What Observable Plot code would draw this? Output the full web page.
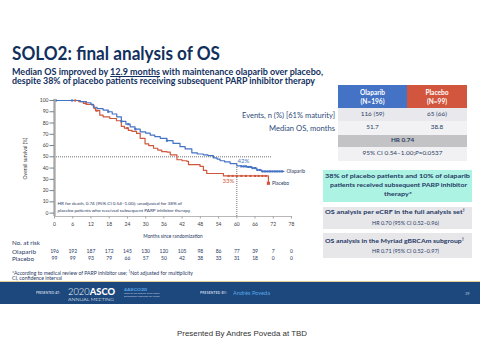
<!DOCTYPE html>
<html><head><meta charset="utf-8">
<script src="https://cdn.jsdelivr.net/npm/d3@7"></script>
<script src="https://cdn.jsdelivr.net/npm/@observablehq/plot@0.6"></script>
<style>
html,body{margin:0;padding:0;background:#fff}
body{width:480px;height:360px;position:relative;overflow:hidden;font-family:Lato,"Open Sans",sans-serif;color:#1f3864}
.a{position:absolute;white-space:nowrap;line-height:1;transform-origin:0 0}
.b{font-weight:700}
.box{position:absolute}
.cell{position:absolute;display:flex;align-items:center;justify-content:center;font-size:6.4px;color:#2c3e63;line-height:1.35;text-align:center}
#chart{position:absolute;left:0;top:95px}
</style></head><body>

<div class="a b" data-w="208" style="left:12px;top:43.5px;font-size:18px;color:#12305e">SOLO2: final analysis of OS</div>
<div class="a b" data-w="311" style="left:12px;top:68px;font-size:8.6px;color:#12305e">Median OS improved by <span style="text-decoration:underline">12.9 months</span> with maintenance olaparib over placebo,</div>
<div class="a b" data-w="303" style="left:12px;top:76.5px;font-size:8.6px;color:#12305e">despite 38% of placebo patients receiving subsequent PARP inhibitor therapy</div>

<div id="chart"></div>

<div class="a" data-w="28" style="left:12px;top:240.5px;font-size:5px">No. at risk</div>
<div class="a" data-w="24" style="left:12px;top:249.5px;font-size:5px">Olaparib</div>
<div class="a" data-w="22" style="left:12px;top:256.5px;font-size:5px">Placebo</div>
<div class="a" data-w="181" style="left:12px;top:269.5px;font-size:5px">*According to medical review of PARP inhibitor use; <sup style="font-size:3px">†</sup>Not adjusted for multiplicity</div>
<div class="a" data-w="50" style="left:12px;top:275.5px;font-size:5px">CI, confidence interval</div>

<!-- table -->
<div class="a" data-w="93" style="left:242px;top:111.7px;font-size:6.6px;color:#2e4a7a">Events, n (%) [61% maturity]</div>
<div class="a" data-w="66" style="left:269px;top:124.5px;font-size:6.6px;color:#2e4a7a">Median OS, months</div>
<div class="cell b" style="left:338px;top:85px;width:69px;height:23px;background:#4472c4;color:#fff;font-size:6.6px" id="hOla"></div>
<div class="cell b" style="left:407px;top:85px;width:60px;height:23px;background:#d2553d;color:#fff;font-size:6.6px" id="hPla"></div>
<div class="cell" style="left:338px;top:108px;width:69px;height:13px;background:#e8e8ed" id="e1"></div>
<div class="cell" style="left:407px;top:108px;width:60px;height:13px;background:#e8e8ed" id="e2"></div>
<div class="cell" style="left:338px;top:121px;width:69px;height:13.5px;background:#f2f2f5" id="m1"></div>
<div class="cell" style="left:407px;top:121px;width:60px;height:13.5px;background:#f2f2f5" id="m2"></div>
<div class="cell b" style="left:338px;top:134.5px;width:129px;height:12.5px;background:#c3c3c6" id="hr"></div>
<div class="cell" style="left:338px;top:147px;width:129px;height:13.5px;background:#f1f1f3" id="ci"></div>

<!-- teal box -->
<div class="box" style="left:323px;top:170px;width:149px;height:32px;background:#adf3e3"></div>
<div class="a b" data-w="145" style="left:325px;top:173px;font-size:6.3px">38% of placebo patients and 10% of olaparib</div>
<div class="a b" data-w="137" style="left:330px;top:182px;font-size:6.3px">patients received subsequent PARP inhibitor</div>
<div class="a b" data-w="28" style="left:384px;top:190.5px;font-size:6.3px">therapy*</div>

<div class="box" style="left:323px;top:207px;width:149px;height:21.5px;background:#e7e7ea"></div>
<div class="a b" data-w="140" style="left:325px;top:209.3px;font-size:6px">OS analysis per eCRF in the full analysis set<sup style="font-size:3.5px">†</sup></div>
<div class="a" data-w="67" style="left:371.5px;top:219.8px;font-size:5.8px">HR 0.70 (95% CI 0.52–0.96)</div>
<div class="box" style="left:323px;top:233px;width:149px;height:25px;background:#e7e7ea"></div>
<div class="a b" data-w="139" style="left:325px;top:237.7px;font-size:6px">OS analysis in the Myriad gBRCAm subgroup<sup style="font-size:3.5px">†</sup></div>
<div class="a" data-w="67" style="left:371.5px;top:248.1px;font-size:5.8px">HR 0.71 (95% CI 0.52–0.97)</div>

<!-- footer -->
<div class="box" style="left:0;top:281px;width:480px;height:1px;background:#e3cf8f"></div>
<div class="box" style="left:0;top:282px;width:480px;height:22px;background:#1c487d"></div>
<div class="a b" data-w="24" style="left:36px;top:292.3px;font-size:3.3px;color:#c9d3e3;letter-spacing:0.2px">PRESENTED AT:</div>
<div class="a" data-w="47" style="left:68px;top:286.5px;font-size:9px;color:#fff"><span style="font-weight:300">2020</span><span style="font-weight:900">ASCO</span></div>
<div class="a" data-w="46" style="left:68px;top:296.7px;font-size:4.6px;color:#fff;font-weight:300">ANNUAL MEETING</div>
<div class="a b" data-w="23" style="left:124px;top:288.3px;font-size:4.5px;color:#5aa7e8">#ASCO20</div>
<div class="a" data-w="36" style="left:124px;top:293.3px;font-size:2.4px;color:#c9d3e3">Slides are the property of the author,</div>
<div class="a" data-w="36" style="left:124px;top:296.3px;font-size:2.4px;color:#c9d3e3">permission required for reuse.</div>
<div class="a b" data-w="27" style="left:200px;top:292.3px;font-size:3.3px;color:#c9d3e3;letter-spacing:0.2px">PRESENTED BY:</div>
<div class="a" data-w="37" style="left:233px;top:291px;font-size:5px;color:#5aa7e8">Andrés Poveda</div>
<div class="a" style="left:465px;top:292px;font-size:4px;color:#b9c6da">39</div>

<div class="a" data-w="130" style="left:176.7px;top:329.6px;font-size:7.8px;color:#333;font-family:'Liberation Sans',Arial,sans-serif">Presented By Andres Poveda at TBD</div>

<script>
// ---- data ----
const olapMonths = [0,7.5,8.5,10.5,12,12.8,14,16,17.7,19,20.5,22,23.5,24.9,26.5,28.2,30,31.5,33,34.8,37,39,41.3,43,45.2,47,49,50.5,52.3,53.5,54.5,56,57.8,60,61.5,63.3,65,66.6,68.2,75.5];
const olapSurv   = [100,100,99,98,96.5,94,92.7,91.5,90,88,85.5,81.5,79,76.6,74.5,72.2,71,69.3,68,66.4,64.3,62,59,57,53.5,52.5,51.8,51,49,48,46.5,45.5,44,42,41.5,41,40,38.3,37,37];
const placMonths = [0,7,8,9.5,10.5,12.2,13,13.5,14.9,16,18.2,20.4,22,23,24.3,25.5,27,28.2,29.8,31,32.6,34,35.3,37,38.1,40.3,42,43.6,44.1,47.9,49,50.1,55.6,70.4];
const placSurv   = [100,100,99,97.5,96.5,96,93,91,87,85.5,84,82,77,75.5,73.5,72.5,70.8,66.4,61.5,60,57.6,56,54.6,54.2,51.8,47.4,46.5,45.9,43,41.5,38,35.2,33,26.5];
const olapCensor = [0.5,5.8,17.7,22,24.3,26.6,37,61.5,62.3,63,63.8,64.5,65.2,66,66.8,67.6,68.5,69.3,70.1,70.9,71.7,72.5,73.3,74.1,74.9];
const placCensor = [6.8,10.3,13.9,24,57.3,58.6,60,61.5,63,64.5,66,67.2,68.4,69.5];
const riskMonths = [0,6,12,18,24,30,36,42,48,54,60,66,72,78];
const olapRisk   = [196,192,187,172,145,130,120,105,98,86,77,39,7,0];
const placRisk   = [99,99,93,79,66,57,50,42,38,33,31,18,0,0];
const yTicks = [0,10,20,30,40,50,60,70,80,90,100];
const seriesNames = ["Olaparib","Placebo"];
const seriesN = [196,99];
const events = ["116 (59)","65 (66)"];
const medians = ["51.7","38.8"];
const hrText = "HR 0.74";
const ciText = "95% CI 0.54–1.00; <i>P</i>=0.0537";
const hrNote = "HR for death, 0.74 (95% CI 0.54–1.00); unadjusted for 38% of\nplacebo patients who received subsequent PARP inhibitor therapy";

document.getElementById("hOla").innerHTML = seriesNames[0] + "<br>(N=" + seriesN[0] + ")";
document.getElementById("hPla").innerHTML = seriesNames[1] + "<br>(N=" + seriesN[1] + ")";
document.getElementById("e1").textContent = events[0];
document.getElementById("e2").textContent = events[1];
document.getElementById("m1").textContent = medians[0];
document.getElementById("m2").textContent = medians[1];
document.getElementById("hr").textContent = hrText;
document.getElementById("ci").innerHTML = ciText;

const blue = "#4472c4", red = "#d0573c", navy = "#1f3864";
const olap = olapMonths.map((m,i)=>({m, s: olapSurv[i]}));
const plac = placMonths.map((m,i)=>({m, s: placSurv[i]}));
function stepAt(ms, ss, t){let v = ss[0]; for (let i=0;i<ms.length;i++) if (ms[i] <= t) v = ss[i]; return v;}
const olapC = olapCensor.map(m=>({m, s: stepAt(olapMonths, olapSurv, m)}));
const placC = placCensor.map(m=>({m, s: stepAt(placMonths, placSurv, m)}));
const placEnd = [plac[plac.length-1]];
const olapEnd = [olap[olap.length-1]];
const risk = riskMonths.map((m,i)=>({m, o: olapRisk[i], p: placRisk[i]}));

const chart = Plot.plot({
  width: 300, height: 175,
  marginLeft: 54, marginRight: 9, marginTop: 5, marginBottom: 54,
  style: {fontFamily: "Lato, sans-serif", fontSize: "5px", color: "#404040", background: "transparent", overflow: "visible"},
  x: {domain: [0, 78]},
  y: {domain: [-3, 100]},
  marks: [
    Plot.ruleY([50], {x1: 0, x2: 71.5, stroke: "#333", strokeWidth: 0.7, strokeDasharray: "1,1"}),
    Plot.ruleX([60], {y1: -3, y2: 42, stroke: "#333", strokeWidth: 0.7, strokeDasharray: "1,1"}),
    Plot.line(plac, {x: "m", y: "s", curve: "step-after", stroke: red, strokeWidth: 1.2}),
    Plot.line(olap, {x: "m", y: "s", curve: "step-after", stroke: blue, strokeWidth: 1.2}),
    Plot.dot(placC, {x: "m", y: "s", symbol: "square", r: 1.2, fill: red, stroke: "none"}),
    Plot.dot(olapC, {x: "m", y: "s", symbol: "square", r: 1.2, fill: blue, stroke: "none"}),
    Plot.dot(placEnd, {x: "m", y: "s", symbol: "square", r: 1.8, fill: red, stroke: "none"}),
    Plot.ruleX([0], {y1: -3, y2: 101, stroke: "#a6a6a6", strokeWidth: 2.3}),
    Plot.ruleY([-3], {x1: 0, x2: 78, stroke: "#a6a6a6", strokeWidth: 0.8}),
    Plot.axisY({ticks: yTicks, tickSize: 4.5, tickPadding: 1.5, stroke: "#7f7f7f", fontSize: 5, label: "Overall survival (%)", labelAnchor: "center", labelOffset: 31, labelArrow: false}),
    Plot.axisX({ticks: riskMonths, tickSize: 2.5, tickPadding: 3, stroke: "#a6a6a6", fontSize: 5, label: null}),
    Plot.text(["Months since randomization"], {frameAnchor: "bottom", dy: 21, fontSize: 4.8, fill: navy}),
    Plot.text(risk, {x: "m", text: "o", frameAnchor: "bottom", dy: 36, fontSize: 5, fill: navy}),
    Plot.text(risk, {x: "m", text: "p", frameAnchor: "bottom", dy: 43, fontSize: 5, fill: navy}),
    Plot.text([hrNote], {x: 1, y: 6, textAnchor: "start", lineHeight: 1.4, fontSize: 4.6, fill: navy}),
    Plot.text(["42%"], {x: 60, y: 42, dx: 0.8, dy: -4.5, textAnchor: "start", fill: blue, fontSize: 6}),
    Plot.text(["33%"], {x: 60, y: 33, dx: -2.5, dy: 5.3, textAnchor: "end", fill: red, fontSize: 6}),
    Plot.text(olapEnd, {x: "m", y: "s", text: () => seriesNames[0], dx: 2.5, textAnchor: "start", fill: navy, fontSize: 5}),
    Plot.text(placEnd, {x: "m", y: "s", text: () => seriesNames[1], dx: 3.5, textAnchor: "start", fill: navy, fontSize: 5})
  ]
});
document.getElementById("chart").appendChild(chart);

function fitAll(){
  document.querySelectorAll("[data-w]").forEach(el => {
    el.style.transform = "none";
    const w = el.getBoundingClientRect().width;
    if (w > 0) el.style.transform = "scaleX(" + (+el.dataset.w / w) + ")";
  });
}
fitAll();
if (document.fonts && document.fonts.ready) document.fonts.ready.then(fitAll);
</script>
</body></html>
